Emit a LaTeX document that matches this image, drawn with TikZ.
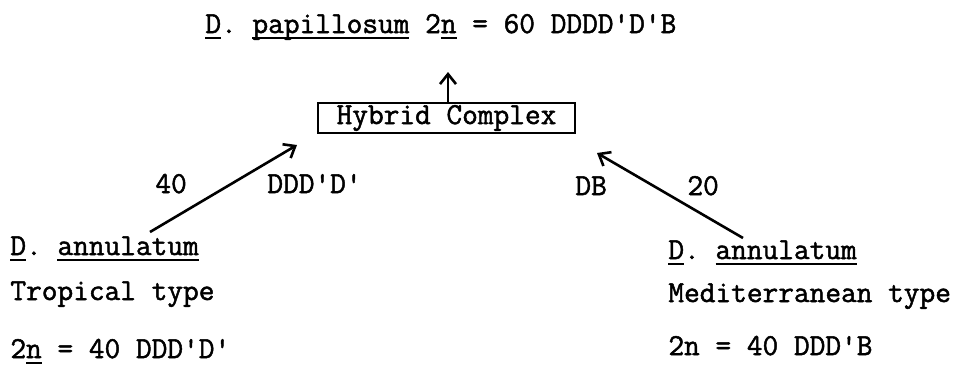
\documentclass[tikz,border=0pt]{standalone}
\usepackage{fontspec}
\newfontfamily\tw{Latin Modern Mono}[FakeBold=1.6]
\usetikzlibrary{arrows.meta}
\newcommand\ul[1]{\setbox0\hbox{#1}\rlap{\rule[-3.2pt]{\wd0}{1.2pt}}\box0\relax}
\tikzset{
  txt/.style={anchor=base west, inner sep=0pt, font=\tw\fontsize{15.24}{18}\selectfont},
  hybbox/.style={draw, line width=1.3pt, minimum width=128.5pt, minimum height=15pt, inner sep=0pt,
    font=\tw\fontsize{15.24}{18}\selectfont},
  arr/.style={line width=1.3pt, -{Straight Barb[length=5pt, width=8pt, line width=1.3pt]}}
}
\begin{document}
\begin{tikzpicture}[x=0.5pt, y=-0.5pt]
    \useasboundingbox (0,0) rectangle (958,387);
    \frenchspacing

    % oberste Zeile
    \node[txt] (pap) at (205,33) {\ul{D}. \ul{papillosum} 2\ul{n} = 60 DDDD'D'B};

    % Hybrid-Kasten
    \node[hybbox] (hyb) at (446.5,118) {Hybrid Complex};

    % linke Elternart
    \node[txt] (lann)  at (10,255) {\ul{D}. \ul{annulatum}};
    \node[txt] (ltype) at (10,300) {Tropical type};
    \node[txt] (lchr)  at (10,358) {2\ul{n} = 40 DDD'D'};

    % rechte Elternart
    \node[txt] (rann)  at (668,259) {\ul{D}. \ul{annulatum}};
    \node[txt] (rtype) at (668,302) {Mediterranean type};
    \node[txt] (rchr)  at (668,355) {2n = 40 DDD'B};

    % Beschriftungen an den Pfeilen
    \node[txt] (lnum) at (155,193) {40};
    \node[txt] (lgen) at (267,193) {DDD'D'};
    \node[txt] (rgen) at (575,195) {DB};
    \node[txt] (rnum) at (687,195) {20};

    % Pfeile
    \coordinate (uptip) at (448,72);
    \coordinate (ltail) at (150,232);
    \coordinate (ltip)  at (297,145);
    \coordinate (rtail) at (743,238);
    \coordinate (rtip)  at (597,153);
    \draw[arr] (hyb.north -| uptip) -- (uptip);
    \draw[arr] (ltail) -- (ltip);
    \draw[arr] (rtail) -- (rtip);
\end{tikzpicture}
\end{document}
